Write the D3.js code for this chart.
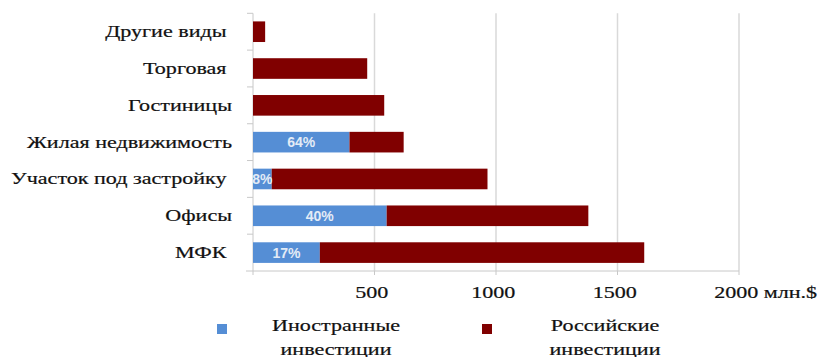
<!DOCTYPE html>
<html><head><meta charset="utf-8">
<script src="https://cdn.jsdelivr.net/npm/d3@7/dist/d3.min.js"></script>
<style>body{margin:0;background:#fff}svg{display:block}</style>
</head><body>
<svg id="c" width="825" height="357"></svg>
<script>
const categories = ["Другие виды ", "Торговая ", "Гостиницы", "Жилая недвижимость", "Участок под застройку ", "Офисы", "МФК "];
const foreign = [0, 0, 0, 397, 77, 550, 275];
const russian = [50, 470, 540, 223, 888, 830, 1335];
const shareLabels = ["", "", "", "64%", "8%", "40%", "17%"];
const tickValues = [500, 1000, 1500, 2000];
const unitLabel = " млн.$";
const seriesNames = [["Иностранные", "инвестиции"], ["Российские", "инвестиции"]];
const colors = ["#558ed5", "#800000"];

const svg = d3.select("#c");
const SX = 1.38;
const serif = "Liberation Serif, Times New Roman, DejaVu Serif, serif";
const txt = sel => sel.attr("font-family", serif).attr("font-size", 16).attr("fill", "#111")
  .attr("stroke", "#111").attr("stroke-width", 0.2);

const x = d3.scaleLinear().domain([0, 2000]).range([253, 739]);
const y = d3.scaleBand().domain(categories).range([13.3, 271]).paddingInner(0.44).paddingOuter(0.22);
const step = y.step();

// gridlines
svg.append("g").selectAll("line").data(tickValues).join("line")
  .attr("x1", d => x(d)).attr("x2", d => x(d)).attr("y1", 13.3).attr("y2", 271)
  .attr("stroke", "#d9d9d9").attr("stroke-width", 1.5);

// bottom axis
const ax = svg.append("g");
ax.append("line").attr("x1", 246).attr("x2", x(2000)).attr("y1", 271).attr("y2", 271).attr("stroke", "#c8c8c8");
ax.selectAll("line.t").data([0].concat(tickValues)).join("line").attr("class", "t")
  .attr("x1", d => x(d)).attr("x2", d => x(d)).attr("y1", 271).attr("y2", 275).attr("stroke", "#c8c8c8");

// left axis
const bounds = d3.range(categories.length + 1).map(i => i < categories.length ? y(categories[i]) - y.paddingInner() * step / 2 : y(categories[i - 1]) + y.bandwidth() + y.paddingInner() * step / 2);
svg.append("line").attr("x1", x(0)).attr("x2", x(0)).attr("y1", bounds[0]).attr("y2", 271).attr("stroke", "#c8c8c8");
svg.append("g").selectAll("line").data(bounds.slice(0, -1)).join("line")
  .attr("x1", x(0) - 6).attr("x2", x(0)).attr("y1", d => d).attr("y2", d => d).attr("stroke", "#c8c8c8");

// bars
const rows = categories.map((c, i) => ({c, f: foreign[i], r: russian[i], l: shareLabels[i]}));
const g = svg.append("g");
g.selectAll("rect.f").data(rows.filter(d => d.f > 0)).join("rect").attr("class", "f")
  .attr("x", x(0)).attr("y", d => y(d.c)).attr("width", d => x(d.f) - x(0)).attr("height", y.bandwidth())
  .attr("fill", colors[0]);
g.selectAll("rect.r").data(rows).join("rect").attr("class", "r")
  .attr("x", d => x(d.f)).attr("y", d => y(d.c)).attr("width", d => x(d.f + d.r) - x(d.f)).attr("height", y.bandwidth())
  .attr("fill", colors[1]);
g.selectAll("text.p").data(rows.filter(d => d.l)).join("text").attr("class", "p")
  .attr("x", d => (x(0) + x(d.f)) / 2).attr("y", d => y(d.c) + y.bandwidth() / 2 + 5)
  .attr("text-anchor", "middle").attr("font-family", "Liberation Sans, Arial, sans-serif")
  .attr("font-size", 14).attr("font-weight", "bold").attr("fill", "#e3ebf6").text(d => d.l);

// category labels
svg.append("g").selectAll("text").data(categories).join("text")
  .attr("transform", d => `translate(232,${y(d) + y.bandwidth() / 2 + 5.5}) scale(${SX},1)`)
  .attr("text-anchor", "end").call(txt)
  .style("white-space", "pre").text(d => d);

// tick labels
svg.append("g").selectAll("text").data(tickValues).join("text")
  .attr("transform", d => `translate(${x(d)},298) scale(${SX},1)`)
  .attr("text-anchor", d => d === 2000 ? "start" : "middle")
  .call(txt).style("white-space", "pre")
  .each(function (d) {
    const t = d3.select(this);
    if (d === 2000) {
      t.text(String(d));
      const w = this.getComputedTextLength();
      t.attr("x", -w / 2 - 2);
      t.text(String(d) + unitLabel);
    } else t.text(String(d)).attr("x", -2);
  });

// legend
const legX = [[222, 336], [487, 605]];
seriesNames.forEach((lines, i) => {
  svg.append("rect").attr("x", legX[i][0] - 5).attr("y", 324).attr("width", 10).attr("height", 10).attr("fill", colors[i]);
  lines.forEach((ln, j) => {
    svg.append("text").attr("transform", `translate(${legX[i][1]},${331 + j * 24}) scale(${SX},1)`)
      .attr("text-anchor", "middle").call(txt).text(ln);
  });
});
</script>
</body></html>
